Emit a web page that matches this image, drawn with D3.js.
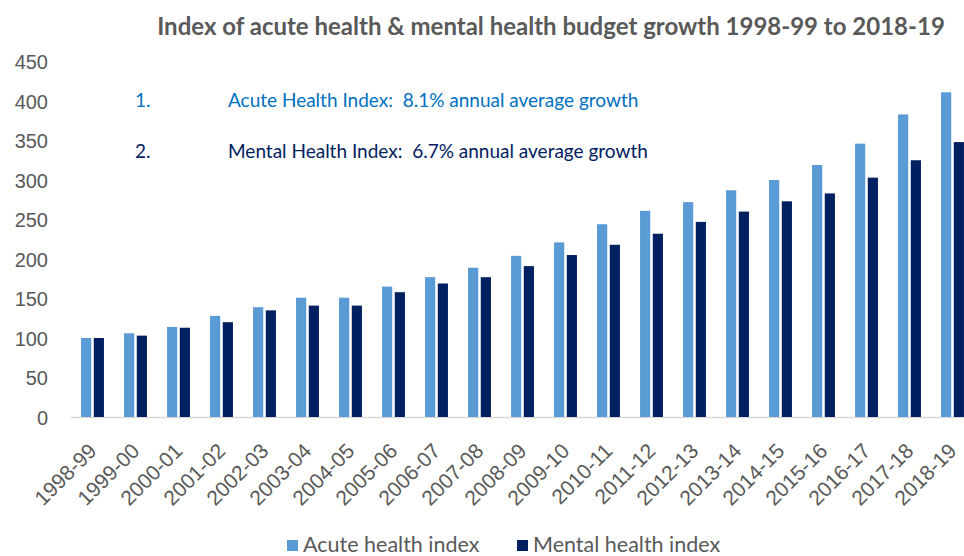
<!DOCTYPE html>
<html>
<head>
<meta charset="utf-8">
<script src="https://cdn.jsdelivr.net/npm/d3@7/dist/d3.min.js"></script>
<style>
  body { margin: 0; background: #fff; }
  svg { display: block; font-family: Lato, "Open Sans", sans-serif; }
  .axis text { fill: #595959; }
</style>
</head>
<body>
<svg id="chart" width="964" height="556"></svg>
<script>
var years = ["1998-99","1999-00","2000-01","2001-02","2002-03","2003-04","2004-05",
  "2005-06","2006-07","2007-08","2008-09","2009-10","2010-11","2011-12","2012-13",
  "2013-14","2014-15","2015-16","2016-17","2017-18","2018-19"];
var acute = [100,106,114,128,139,151,151,165,177,189,204,221,244,261,272,287,300,319,346,383,411];
var mental = [100,103,113,120,135,141,141,158,169,177,191,205,218,232,247,260,273,283,303,325,348];
var seriesNames = ["Acute health index", "Mental health index"];
var yTicks = [0,50,100,150,200,250,300,350,400,450];

var colors = {"Acute health index": "#5b9bd5", "Mental health index": "#002060"};

var svg = d3.select("#chart");

var x0 = d3.scaleBand().domain(years).range([71, 974]).paddingInner(0).paddingOuter(0);
var x1 = d3.scaleBand().domain(seriesNames).range([0, x0.bandwidth()])
    .paddingInner(0.2).paddingOuter(0.79);
var y = d3.scaleLinear().domain([0, 450]).range([417, 61.5]);

var data = years.map(function(d, i) {
  return {year: d, values: [
    {name: seriesNames[0], value: acute[i]},
    {name: seriesNames[1], value: mental[i]}
  ]};
});

// title
svg.append("text")
    .attr("x", 551).attr("y", 35)
    .attr("text-anchor", "middle")
    .style("font-size", "24px").style("font-weight", "bold")
    .style("fill", "#595959")
    .text("Index of acute health & mental health budget growth 1998-99 to 2018-19");

// y axis (labels only)
var yAxis = svg.append("g")
    .attr("class", "axis")
    .attr("transform", "translate(48,0)")
    .call(d3.axisLeft(y).tickValues(yTicks).tickSize(0).tickPadding(0));
yAxis.select(".domain").remove();
yAxis.selectAll("text").style("font-size", "20px").attr("dy", "0.35em");

// baseline
svg.append("line")
    .attr("x1", 71).attr("x2", 974)
    .attr("y1", y(0) + 0.5).attr("y2", y(0) + 0.5)
    .attr("stroke", "#d9d9d9").attr("stroke-width", 1.3);

// bars
var groups = svg.selectAll(".grp")
  .data(data)
  .enter().append("g")
    .attr("class", "grp")
    .attr("transform", function(d) { return "translate(" + x0(d.year) + ",0)"; });

groups.selectAll("rect")
  .data(function(d) { return d.values; })
  .enter().append("rect")
    .attr("x", function(d) { return x1(d.name); })
    .attr("y", function(d) { return y(d.value); })
    .attr("width", x1.bandwidth())
    .attr("height", function(d) { return y(0) - y(d.value); })
    .attr("fill", function(d) { return colors[d.name]; });

// x axis labels, rotated
var xAxis = svg.append("g")
    .attr("class", "axis")
    .attr("transform", "translate(0," + y(0) + ")")
    .call(d3.axisBottom(x0).tickSize(0).tickPadding(0));
xAxis.select(".domain").remove();
xAxis.selectAll("text")
    .style("font-size", "21px")
    .attr("text-anchor", "end")
    .attr("x", 0).attr("y", 0)
    .attr("dy", "0.35em")
    .attr("transform", "translate(0,30) rotate(-45)");

// annotations
var notes = [
  {num: "1.", txt: "Acute Health Index:  8.1% annual average growth", color: "#0070c0", y: 107},
  {num: "2.", txt: "Mental Health Index:  6.7% annual average growth", color: "#002060", y: 158}
];
notes.forEach(function(n) {
  svg.append("text").attr("x", 135).attr("y", n.y)
      .style("font-size", "19px").style("fill", n.color).text(n.num);
  svg.append("text").attr("x", 228).attr("y", n.y)
      .style("font-size", "19px").style("fill", n.color)
      .style("white-space", "pre").text(n.txt);
});

// legend
var legend = svg.append("g").attr("class", "legend");
var legX = [287, 517];
seriesNames.forEach(function(s, i) {
  legend.append("rect")
      .attr("x", legX[i]).attr("y", 540)
      .attr("width", 11).attr("height", 11)
      .attr("fill", colors[s]);
  legend.append("text")
      .attr("x", legX[i] + 16).attr("y", 552)
      .style("font-size", "21.5px").style("fill", "#595959")
      .text(s);
});
</script>
</body>
</html>
